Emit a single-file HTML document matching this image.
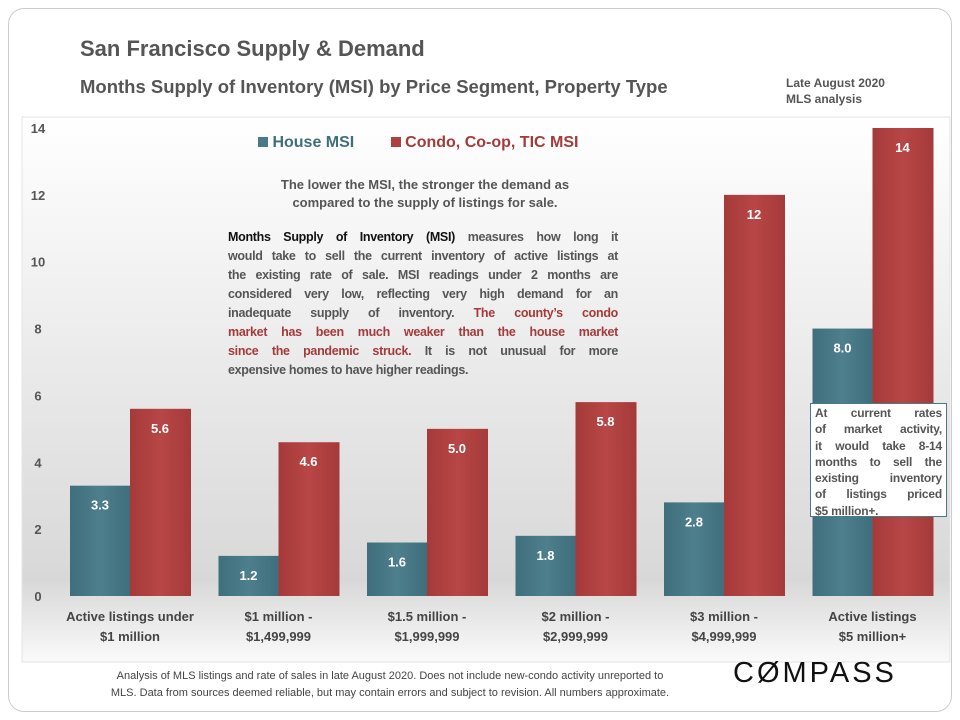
<!DOCTYPE html>
<html><head><meta charset="utf-8"><style>
body{margin:0;width:960px;height:720px;background:#fff;font-family:"Liberation Sans",sans-serif;position:relative;overflow:hidden}
.abs{position:absolute}
.j{text-align:justify;text-align-last:justify;white-space:nowrap}
.l{text-align:left;text-align-last:left}
</style></head><body>
<div class="abs" style="left:8px;top:8px;width:942px;height:702px;border:1px solid #ccc;border-radius:16px"></div>
<div class="abs" style="left:80px;top:36px;font-size:22px;font-weight:bold;color:#555">San Francisco Supply &amp; Demand</div>
<div class="abs" style="left:80px;top:76px;font-size:18.5px;font-weight:bold;color:#555">Months Supply of Inventory (MSI) by Price Segment, Property Type</div>
<div class="abs" style="left:786px;top:75px;font-size:12px;font-weight:bold;color:#555;line-height:16px">Late August 2020<br>MLS analysis</div>
<svg class="abs" style="left:0;top:0" width="960" height="720">
<defs>
<linearGradient id="bg" x1="0" y1="0" x2="0" y2="1"><stop offset="0" stop-color="#fff"/><stop offset="0.85" stop-color="#d8d8d8"/><stop offset="1" stop-color="#fafafa"/></linearGradient>
<linearGradient id="hg" x1="0" x2="1"><stop offset="0" stop-color="#3f6e7c"/><stop offset="0.5" stop-color="#4e7f8d"/><stop offset="1" stop-color="#3f6e7c"/></linearGradient>
<linearGradient id="cg" x1="0" x2="1"><stop offset="0" stop-color="#a53a3a"/><stop offset="0.5" stop-color="#b84646"/><stop offset="1" stop-color="#a53a3a"/></linearGradient>
</defs>
<rect x="22" y="117" width="928" height="545" fill="url(#bg)" stroke="#e4e4e4"/>
<g id="yaxis"></g><g id="bars"></g><g id="xlabels"></g>
</svg>
<div class="abs" style="left:258px;top:134px;font-size:16px;font-weight:bold">
<span style="display:inline-block;width:10px;height:10px;background:#4a7a88"></span> <span style="color:#3f6e7c">House MSI</span>
<span style="display:inline-block;width:10px;height:10px;background:#b04040;margin-left:32px"></span> <span style="color:#a53a3a">Condo, Co-op, TIC MSI</span></div>
<div class="abs" style="left:220px;top:176px;width:410px;text-align:center;font-size:13px;font-weight:bold;color:#555;line-height:18px">The lower the MSI, the stronger the demand as<br>compared to the supply of listings for sale.</div>
<div class="abs" style="left:228px;top:228px;width:390px;font-size:12.5px;letter-spacing:-0.3px;font-weight:bold;color:#555;line-height:19px">
<div class="j"><span style="color:#111">Months Supply of Inventory (MSI)</span> measures how long it</div>
<div class="j">would take to sell the current inventory of active listings at</div>
<div class="j">the existing rate of sale. MSI readings under 2 months are</div>
<div class="j">considered very low, reflecting very high demand for an</div>
<div class="j">inadequate supply of inventory. <span style="color:#a53a3a">The county’s condo</span></div>
<div class="j" style="color:#a53a3a">market has been much weaker than the house market</div>
<div class="j"><span style="color:#a53a3a">since the pandemic struck.</span> It is not unusual for more</div>
<div class="l">expensive homes to have higher readings.</div>
</div>
<div class="abs" style="left:810px;top:403px;width:127px;height:110px;padding:1px 4px;background:#fff;border:1px solid #4a7a88;font-size:12px;letter-spacing:-0.2px;font-weight:bold;color:#555;line-height:16.3px">
<div class="j">At current rates</div><div class="j">of market activity,</div><div class="j">it would take 8-14</div><div class="j">months to sell the</div><div class="j">existing inventory</div><div class="j">of listings priced</div><div class="l">$5 million+.</div></div>
<div class="abs" style="left:60px;top:668px;width:660px;text-align:center;font-size:11px;color:#444;line-height:17px">Analysis of MLS listings and rate of sales in late August 2020. Does not include new-condo activity unreported to<br>MLS. Data from sources deemed reliable, but may contain errors and subject to revision. All numbers approximate.</div>
<div class="abs" style="left:733px;top:657px;font-size:29px;letter-spacing:3px;color:#111">C&#216;MPASS</div>
<script>
const categories=[["Active listings under","$1 million"],["$1 million -","$1,499,999"],["$1.5 million -","$1,999,999"],["$2 million -","$2,999,999"],["$3 million -","$4,999,999"],["Active listings","$5 million+"]];
const houseMSI=[3.3,1.2,1.6,1.8,2.8,8.0];
const condoMSI=[5.6,4.6,5.0,5.8,12,14];
const houseLabels=["3.3","1.2","1.6","1.8","2.8","8.0"];
const condoLabels=["5.6","4.6","5.0","5.8","12","14"];
const yTicks=[0,2,4,6,8,10,12,14];
const NS="http://www.w3.org/2000/svg";
const y0=596,yTop=128,yMax=14;
function y(v){return y0-(y0-yTop)*v/yMax;}
function gx(i){return 70+i*148.5;}
function mk(tag,attrs,parent,txt){const e=document.createElementNS(NS,tag);for(const k in attrs)e.setAttribute(k,attrs[k]);if(txt!==undefined)e.textContent=txt;parent.appendChild(e);return e;}
const ya=document.getElementById('yaxis'),bars=document.getElementById('bars'),xl=document.getElementById('xlabels');
yTicks.forEach(t=>{const e=mk('text',{x:38,y:y(t)+5,'text-anchor':'middle','font-size':13,'font-weight':'bold',fill:'#555'},ya,String(t));

});
categories.forEach((c,i)=>{
const x=gx(i),bw=60;
const h=mk('rect',{x:x,y:y(houseMSI[i]),width:bw,height:y0-y(houseMSI[i]),fill:'url(#hg)'},bars);


const cr=mk('rect',{x:x+bw,y:y(condoMSI[i]),width:bw+1,height:y0-y(condoMSI[i]),fill:'url(#cg)'},bars);


const hl=mk('text',{x:x+bw/2,y:y(houseMSI[i])+24,'text-anchor':'middle','font-size':13,'font-weight':'bold',fill:'#fff'},bars,houseLabels[i]);


const cl=mk('text',{x:x+bw*1.5,y:y(condoMSI[i])+24,'text-anchor':'middle','font-size':13,'font-weight':'bold',fill:'#fff'},bars,condoLabels[i]);


c.forEach((line,j)=>{const t=mk('text',{x:x+bw,y:621+j*20,'text-anchor':'middle','font-size':13,'font-weight':'bold',fill:'#444'},xl,line);

});
});
</script>
</body></html>
